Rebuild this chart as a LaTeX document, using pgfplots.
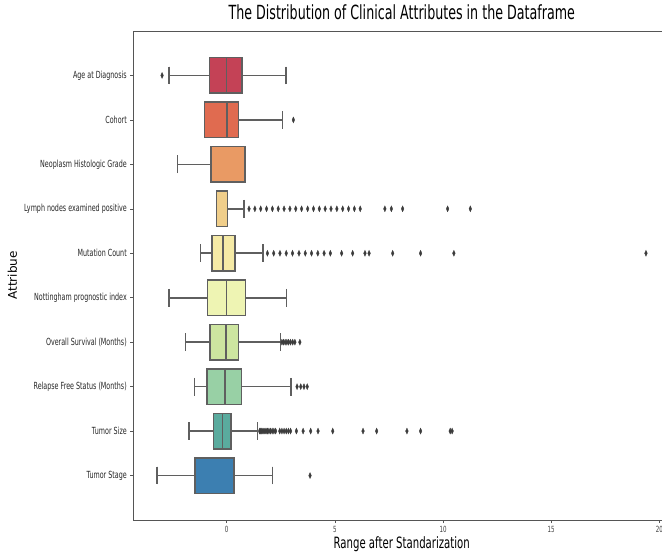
\documentclass[border=0pt]{standalone}
\usepackage{pgfplots}
\pgfplotsset{compat=1.18}
\usepgfplotslibrary{statistics}
\usepackage{fontspec}
\setmainfont{DejaVu Sans}
\newfontfamily\nf{DejaVu Sans}[FakeStretch=0.65]
\definecolor{lg}{RGB}{95,95,95}
\definecolor{mk}{RGB}{60,60,60}
\definecolor{sp}{RGB}{85,85,85}
\definecolor{c0}{RGB}{196,66,86}
\definecolor{c1}{RGB}{224,107,80}
\definecolor{c2}{RGB}{233,154,100}
\definecolor{c3}{RGB}{240,206,138}
\definecolor{c4}{RGB}{245,234,166}
\definecolor{c5}{RGB}{238,244,179}
\definecolor{c6}{RGB}{205,229,160}
\definecolor{c7}{RGB}{152,208,165}
\definecolor{c8}{RGB}{90,171,158}
\definecolor{c9}{RGB}{60,127,177}
\begin{document}
\begin{tikzpicture}
\begin{axis}[
  name=ax,
  scale only axis,
  width=536.9pt, height=489pt,
  xmin=-4.32, xmax=20.5,
  ymin=-1, ymax=10,
  y dir=reverse,
  axis line style={draw=sp, line width=0.8pt},
  xtick={0,5,10,15,20},
  ytick={0,1,2,3,4,5,6,7,8,9},
  yticklabels={Age at Diagnosis, Cohort, Neoplasm Histologic Grade, Lymph nodes examined positive, Mutation Count, Nottingham prognostic index, Overall Survival (Months), Relapse Free Status (Months), Tumor Size, Tumor Stage},
  tick align=outside,
  major tick length=3pt,
  tick style={draw=sp, line width=0.6pt},
  xtick pos=bottom, ytick pos=left,
  /pgf/number format/assume math mode=true,
  xticklabel style={font=\nf\fontsize{8.5}{10}\selectfont, text=black!75},
  yticklabel style={font=\nf\fontsize{9.8}{11}\selectfont, text=black!85},
  title={The Distribution of Clinical Attributes in the Dataframe},
  title style={font=\nf\fontsize{19.5}{22}\selectfont, at={(axis description cs:0.5,1)}, anchor=base, yshift=6pt},
  xlabel={Range after Standarization},
  xlabel style={font=\nf\fontsize{15.6}{18}\selectfont, at={(axis description cs:0.5,0)}, anchor=base, yshift=-28pt},
  ylabel={Attribue},
  ylabel style={font=\fontsize{12}{14}\selectfont, at={(axis description cs:0,0.5)}, anchor=center, yshift=121pt},
  boxplot/draw direction=x,
  boxplot/box extend=0.8,
  boxplot/whisker extend=0.4,
  boxplot/every whisker/.style={draw=lg, line width=1.6pt, solid},
  boxplot/every box/.style={draw=lg, line width=1.6pt, solid},
  boxplot/every median/.style={draw=lg, line width=1.6pt, solid},
  bx/.style={draw=lg, line width=1.6pt, solid, mark=diamond*, mark size=3pt,
    mark options={fill=mk, draw=mk, xscale=0.6, line width=0.3pt, solid}},
]
\addplot[bx, fill=c0, boxplot prepared={draw position=0, lower whisker=-2.66, lower quartile=-0.79, median=-0.01, upper quartile=0.71, upper whisker=2.73}]
  table[row sep=\\, y index=0] {data\\ -2.99\\};
\addplot[bx, fill=c1, boxplot prepared={draw position=1, lower whisker=-1.02, lower quartile=-1.02, median=0.02, upper quartile=0.54, upper whisker=2.57}]
  table[row sep=\\, y index=0] {data\\ 3.08\\};
\addplot[bx, fill=c2, boxplot prepared={draw position=2, lower whisker=-2.28, lower quartile=-0.72, median=0.83, upper quartile=0.83, upper whisker=0.83}]
  coordinates {};
\addplot[bx, fill=c3, boxplot prepared={draw position=3, lower whisker=-0.48, lower quartile=-0.48, median=-0.48, upper quartile=0.03, upper whisker=0.80}]
  table[row sep=\\, y index=0] {data\\ 1.03\\ 1.30\\ 1.57\\ 1.84\\ 2.11\\ 2.38\\ 2.65\\ 2.92\\ 3.19\\ 3.46\\ 3.74\\ 4.01\\ 4.28\\ 4.55\\ 4.82\\ 5.09\\ 5.36\\ 5.63\\ 5.90\\ 6.17\\ 7.31\\ 7.61\\ 8.13\\ 10.21\\ 11.26\\};
\addplot[bx, fill=c4, boxplot prepared={draw position=4, lower whisker=-1.22, lower quartile=-0.68, median=-0.18, upper quartile=0.37, upper whisker=1.68}]
  table[row sep=\\, y index=0] {data\\ 1.88\\ 2.17\\ 2.46\\ 2.75\\ 3.04\\ 3.34\\ 3.63\\ 3.92\\ 4.21\\ 4.50\\ 4.79\\ 5.31\\ 5.82\\ 6.39\\ 6.58\\ 7.67\\ 8.96\\ 10.50\\ 19.38\\};
\addplot[bx, fill=c5, boxplot prepared={draw position=5, lower whisker=-2.68, lower quartile=-0.89, median=-0.01, upper quartile=0.86, upper whisker=2.76}]
  coordinates {};
\addplot[bx, fill=c6, boxplot prepared={draw position=6, lower whisker=-1.91, lower quartile=-0.77, median=-0.03, upper quartile=0.54, upper whisker=2.49}]
  table[row sep=\\, y index=0] {data\\ 2.55\\ 2.62\\ 2.70\\ 2.78\\ 2.86\\ 2.95\\ 3.05\\ 3.15\\ 3.38\\};
\addplot[bx, fill=c7, boxplot prepared={draw position=7, lower whisker=-1.49, lower quartile=-0.92, median=-0.09, upper quartile=0.68, upper whisker=2.97}]
  table[row sep=\\, y index=0] {data\\ 3.25\\ 3.42\\ 3.57\\ 3.72\\};
\addplot[bx, fill=c8, boxplot prepared={draw position=8, lower whisker=-1.74, lower quartile=-0.62, median=-0.20, upper quartile=0.20, upper whisker=1.43}]
  table[row sep=\\, y index=0] {data\\ 1.52\\ 1.57\\ 1.62\\ 1.67\\ 1.72\\ 1.77\\ 1.82\\ 1.88\\ 1.95\\ 2.02\\ 2.10\\ 2.18\\ 2.26\\ 2.45\\ 2.55\\ 2.65\\ 2.75\\ 2.85\\ 2.95\\ 3.22\\ 3.53\\ 3.88\\ 4.22\\ 4.90\\ 6.30\\ 6.93\\ 8.33\\ 8.96\\ 10.33\\ 10.42\\};
\addplot[bx, fill=c9, boxplot prepared={draw position=9, lower whisker=-3.22, lower quartile=-1.46, median=0.34, upper quartile=0.34, upper whisker=2.11}]
  table[row sep=\\, y index=0] {data\\ 3.85\\};
\end{axis}
\pgfresetboundingbox
\path[use as bounding box] ([shift={(-133.3pt,-32pt)}]ax.south west) rectangle ([shift={(528.7pt,31pt)}]ax.north west);
\end{tikzpicture}
\end{document}
